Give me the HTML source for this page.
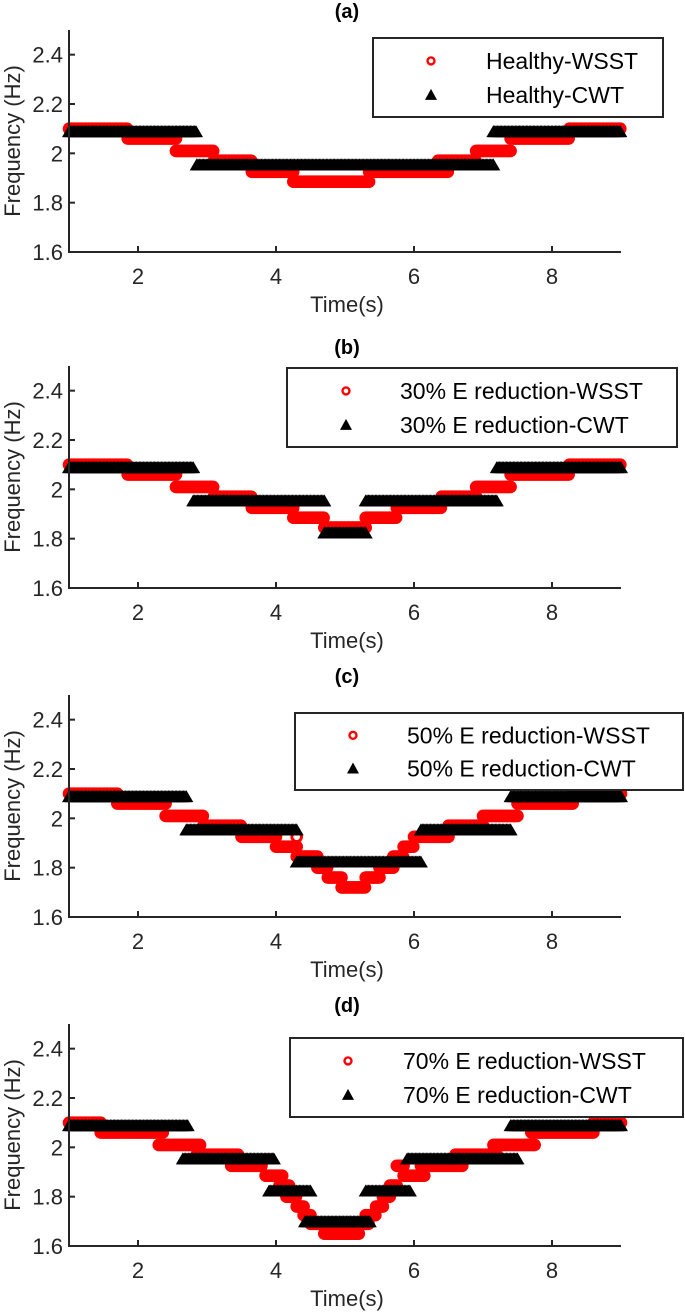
<!DOCTYPE html>
<html><head><meta charset="utf-8">
<style>
html,body{margin:0;padding:0;background:#fff;}
svg{display:block;font-family:"Liberation Sans",Arial,sans-serif;}
</style></head>
<body>
<svg id="chart" width="685" height="1316" viewBox="0 0 685 1316" xmlns="http://www.w3.org/2000/svg"></svg>
<script>
// Segment data: [startTime, endTime, frequency]
const wsstA = [[1,1.85,2.10],[1.85,2.55,2.06],[2.55,3.1,2.01],[3.1,3.65,1.97],[3.65,4.25,1.925],[4.25,5.35,1.885],[5.35,6.5,1.925],[6.35,6.9,1.97],[6.9,7.4,2.01],[7.4,8.25,2.06],[8.25,9,2.10]];
const cwtA = [[1,2.85,2.09],[2.85,7.15,1.955],[7.15,9,2.09]];
const wsstB = [[1,1.85,2.10],[1.85,2.55,2.06],[2.55,3.1,2.01],[3.1,3.65,1.97],[3.65,4.25,1.925],[4.25,4.7,1.885],[4.7,5.3,1.845],[5.3,5.75,1.885],[5.75,6.4,1.925],[6.4,6.9,1.97],[6.9,7.4,2.01],[7.4,8.25,2.06],[8.25,9,2.10]];
const cwtB = [[1,2.8,2.09],[2.8,4.7,1.955],[4.7,5.3,1.825],[5.3,7.2,1.955],[7.2,9,2.09]];
const wsstC = [[1,1.7,2.10],[1.7,2.4,2.06],[2.4,2.95,2.01],[2.95,3.5,1.97],[3.5,4.0,1.925],[4.0,4.3,1.885],[4.3,4.6,1.845],[4.6,4.75,1.80],[4.75,4.95,1.76],[4.95,5.3,1.72],[5.3,5.5,1.76],[5.5,5.7,1.80],[5.7,5.85,1.845],[5.85,6.0,1.885],[6.0,6.5,1.925],[6.5,7.0,1.97],[7.0,7.5,2.01],[7.5,8.3,2.06],[8.3,9,2.10],[4.3,4.3,1.925]];
const cwtC = [[1,2.7,2.09],[2.7,4.3,1.955],[4.3,6.1,1.825],[6.1,7.4,1.955],[7.4,9,2.09]];
const wsstD = [[1,1.46,2.10],[1.46,2.37,2.06],[2.3,2.9,2.01],[2.85,3.45,1.97],[3.35,3.8,1.925],[3.85,4.1,1.885],[4.05,4.2,1.845],[4.15,4.3,1.80],[4.3,4.4,1.76],[4.4,4.5,1.725],[4.5,4.8,1.69],[4.7,5.2,1.65],[5.2,5.35,1.69],[5.3,5.45,1.725],[5.45,5.55,1.76],[5.55,5.65,1.80],[5.65,5.75,1.845],[5.75,5.85,1.925],[5.85,6.15,1.885],[6.1,6.7,1.925],[6.6,7.2,1.97],[7.15,7.75,2.01],[7.7,8.6,2.06],[8.6,9,2.10]];
const cwtD = [[1,2.72,2.09],[2.65,3.98,1.955],[3.9,4.5,1.825],[4.42,5.37,1.70],[5.3,5.95,1.825],[5.9,7.5,1.955],[7.4,9,2.09]];
const panelTitles = ["(a)","(b)","(c)","(d)"];
const legendWsst = ["Healthy-WSST","30% E reduction-WSST","50% E reduction-WSST","70% E reduction-WSST"];
const legendCwt = ["Healthy-CWT","30% E reduction-CWT","50% E reduction-CWT","70% E reduction-CWT"];
const xTicks = [2,4,6,8];
const yTicks = [1.6,1.8,2.0,2.2,2.4];
const yTickLabels = ["1.6","1.8","2","2.2","2.4"];
const xTickLabels = ["2","4","6","8"];

const NS="http://www.w3.org/2000/svg";
const svg=document.getElementById('chart');
function mk(tag,attrs,parent){const e=document.createElementNS(NS,tag);for(const k in attrs)e.setAttribute(k,attrs[k]);(parent||svg).appendChild(e);return e;}

const bottoms=[252,588,917,1246];
const legends=[
 {x:373,y:38,w:290,h:79,mx:431,tx:486},
 {x:287,y:368,w:390,h:79,mx:346,tx:400},
 {x:295,y:713,w:388,h:77,mx:353,tx:407},
 {x:290,y:1038,w:393,h:79,mx:348,tx:403}
];
const wsstAll=[wsstA,wsstB,wsstC,wsstD], cwtAll=[cwtA,cwtB,cwtC,cwtD];
const X0=69, XU=69, PH=222;

for(let p=0;p<4;p++){
  const bot=bottoms[p], top=bot-PH;
  const xs=t=>X0+(t-1)*XU;
  const ys=f=>bot-(f-1.6)/0.9*PH;
  const g=mk('g',{});
  
  
  const title=mk('text',{x:347,y:top-12,'text-anchor':'middle','font-size':20,'font-weight':'bold',fill:'#000'},g);
  title.textContent=panelTitles[p];
  
  
  const sw=mk('g',{fill:'none',stroke:'#ff0000','stroke-width':3},g);
  
  
  wsstAll[p].forEach(s=>{
    for(let t=s[0];t<=s[1]+1e-9;t+=0.02){
      const c=mk('circle',{cx:xs(t).toFixed(1),cy:ys(s[2]).toFixed(1),r:4.8},sw);
      
      
    }
  });
  const sc=mk('g',{fill:'#000'},g);
  
  
  cwtAll[p].forEach(s=>{
    for(let t=s[0];t<=s[1]+1e-9;t+=0.02){
      const x=xs(t), y=ys(s[2]);
      const tri=mk('path',{d:`M${(x-7).toFixed(1)},${(y+6).toFixed(1)}L${(x+7).toFixed(1)},${(y+6).toFixed(1)}L${x.toFixed(1)},${(y-6).toFixed(1)}Z`},sc);
      
      
    }
  });
  const ax=mk('path',{d:`M${X0},${top}V${bot}H${xs(9)}`,fill:'none',stroke:'#262626','stroke-width':2},g);
  
  
  xTicks.forEach((t,i)=>{
    const tk=mk('line',{x1:xs(t),x2:xs(t),y1:bot,y2:bot-6,stroke:'#262626','stroke-width':2},g);
    
    
    const lb=mk('text',{x:xs(t),y:bot+32,'text-anchor':'middle','font-size':22,fill:'#262626'},g);
    lb.textContent=xTickLabels[i];
    
    
  });
  yTicks.forEach((f,i)=>{
    const tk=mk('line',{x1:X0,x2:X0+6,y1:ys(f),y2:ys(f),stroke:'#262626','stroke-width':2},g);
    
    
    const lb=mk('text',{x:X0-6,y:ys(f)+8,'text-anchor':'end','font-size':22,fill:'#262626'},g);
    lb.textContent=yTickLabels[i];
    
    
  });
  const xl=mk('text',{x:347,y:bot+60,'text-anchor':'middle','font-size':22,fill:'#262626'},g);
  xl.textContent='Time(s)';
  
  
  const yc=(top+bot)/2;
  const yl=mk('text',{x:20,y:yc,'text-anchor':'middle','font-size':22,fill:'#262626',transform:`rotate(-90 20 ${yc})`},g);
  yl.textContent='Frequency (Hz)';
  
  
  const L=legends[p];
  const lg=mk('g',{},g);
  
  
  mk('rect',{x:L.x,y:L.y,width:L.w,height:L.h,fill:'#fff',stroke:'#262626','stroke-width':2},lg);
  const r1=L.y+L.h*0.29, r2=L.y+L.h*0.72;
  mk('circle',{cx:L.mx,cy:r1,r:3.5,fill:'none',stroke:'#ff0000','stroke-width':2.4},lg);
  mk('path',{d:`M${L.mx-6},${r2+5}L${L.mx+6},${r2+5}L${L.mx},${r2-6}Z`,fill:'#000'},lg);
  const t1=mk('text',{x:L.tx,y:r1+8,'font-size':23,fill:'#000'},lg);
  t1.textContent=legendWsst[p];
  
  
  const t2=mk('text',{x:L.tx,y:r2+8,'font-size':23,fill:'#000'},lg);
  t2.textContent=legendCwt[p];
  
  
}
</script>
</body></html>
